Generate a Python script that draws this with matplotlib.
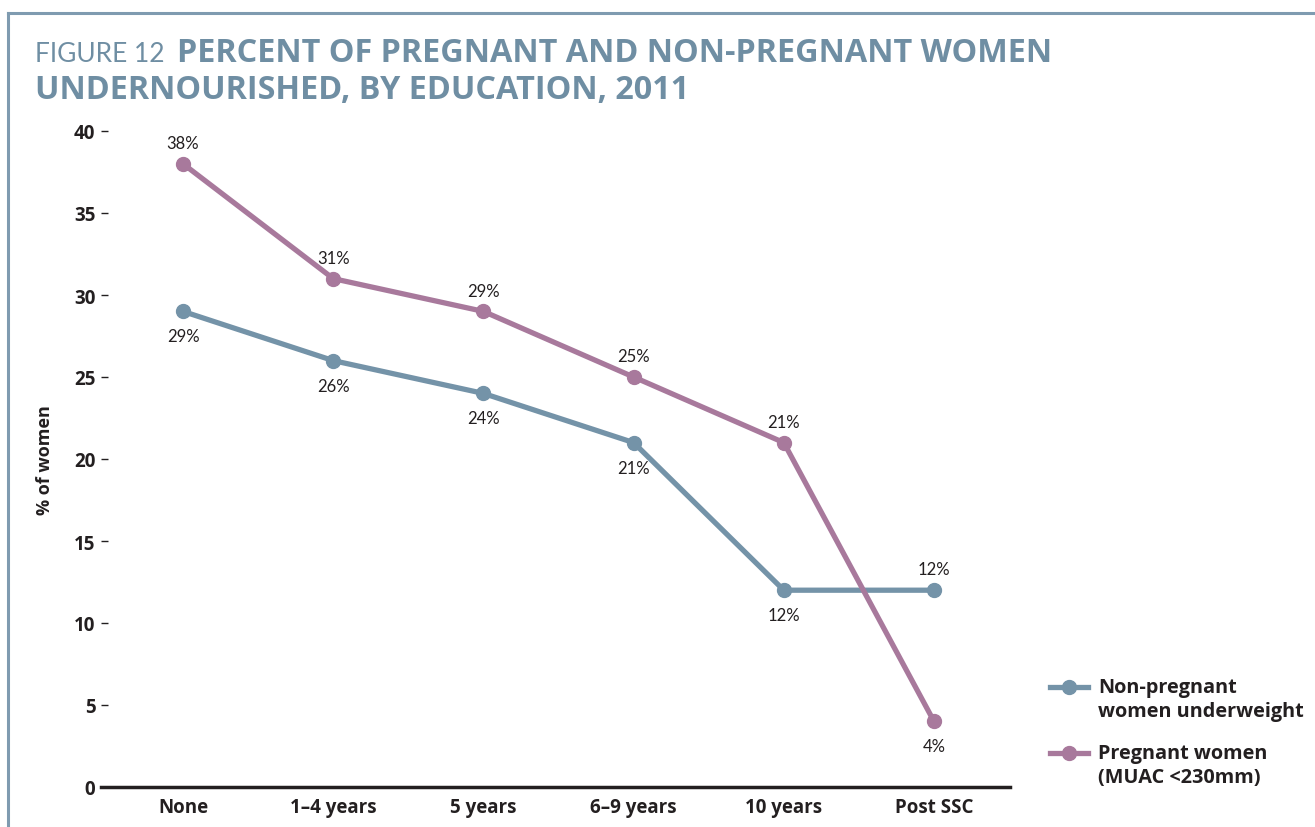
"""Percent of pregnant and non-pregnant women undernourished, by education, 2011."""

import matplotlib
matplotlib.use("Agg")
import matplotlib.pyplot as plt
from matplotlib.lines import Line2D

categories = ["None", "1–4 years", "5 years", "6–9 years", "10 years", "Post SSC"]
non_pregnant = [29, 26, 24, 21, 12, 12]
pregnant = [38, 31, 29, 25, 21, 4]
# label placement: True = above the point
non_pregnant_above = [False, False, False, False, False, True]
pregnant_above = [True, True, True, True, True, False]
y_ticks = [0, 5, 10, 15, 20, 25, 30, 35, 40]

BLUE = "#7493a8"
PINK = "#a8799c"
TITLE = "#6f8ea3"
FRAME = "#7f9bb0"
DARK = "#231f20"
BOLD = dict(family=["Open Sans", "DejaVu Sans"], fontweight="bold")

plt.rcParams["font.family"] = ["Lato", "DejaVu Sans"]

W, H = 1315, 828
fig = plt.figure(figsize=(W / 100, H / 100), dpi=100)

ax = fig.add_axes([101 / W, 1 - 788 / H, (1010 - 101) / W, (788 - 132) / H])
x = list(range(len(categories)))

ax.plot(x, non_pregnant, color=BLUE, lw=3.8, marker="o", ms=10, zorder=3)
ax.plot(x, pregnant, color=PINK, lw=3.8, marker="o", ms=10, zorder=3)


def label_points(values, above):
    for xi, v, up in zip(x, values, above):
        ax.annotate(f"{v}%", (xi, v), xytext=(0, 15 if up else -18), textcoords="offset points",
                    ha="center", va="center", fontsize=12, color=DARK)


label_points(non_pregnant, non_pregnant_above)
label_points(pregnant, pregnant_above)

ax.set_xlim(-0.546, 5.506)
ax.set_ylim(0, 40)
ax.set_yticks(y_ticks)
ax.set_xticks(x)
ax.set_xticklabels(categories, fontsize=13.5, color=DARK, **BOLD)
ax.set_yticklabels([str(t) for t in y_ticks], fontsize=13.5, color=DARK, **BOLD)
ax.tick_params(axis="y", direction="in", length=5, width=1, color=DARK, pad=4)
ax.tick_params(axis="x", length=0, pad=7)
for s in ["top", "right", "left"]:
    ax.spines[s].set_visible(False)
ax.spines["bottom"].set_linewidth(2.5)
ax.spines["bottom"].set_color(DARK)
ax.set_ylabel("% of women", fontsize=13, color=DARK, labelpad=14, **BOLD)

# title: regular prefix + bold text
t1 = fig.text(35 / W, 1 - 62 / H, "FIGURE 12", fontsize=19, color=TITLE, va="baseline")
fig.canvas.draw()
bb = t1.get_window_extent(fig.canvas.get_renderer())
fig.text((bb.x1 + 12) / W, 1 - 62 / H, "PERCENT OF PREGNANT AND NON-PREGNANT WOMEN",
         fontsize=23.3, color=TITLE, va="baseline", **BOLD)
fig.text(35 / W, 1 - 99 / H, "UNDERNOURISHED, BY EDUCATION, 2011",
         fontsize=23.3, color=TITLE, va="baseline", **BOLD)

# frame
fig.add_artist(Line2D([8 / W, 1], [1 - 14 / H, 1 - 14 / H], color=FRAME, lw=2.2))
fig.add_artist(Line2D([8 / W, 8 / W], [0, 1 - 14 / H], color=FRAME, lw=2.2))

# legend
legend_items = [(BLUE, "Non-pregnant\nwomen underweight", 688),
                (PINK, "Pregnant women\n(MUAC <230mm)", 754)]
for color, label, ypx in legend_items:
    fig.add_artist(Line2D([1050 / W, 1088 / W], [1 - ypx / H] * 2, color=color, lw=3.8))
    fig.add_artist(Line2D([1069 / W], [1 - ypx / H], color=color, marker="o", ms=10))
    fig.text(1098 / W, 1 - (ypx - 10) / H, label, fontsize=14.3, color=DARK, va="top",
             linespacing=1.3, **BOLD)

fig.savefig("out.png", dpi=100)
